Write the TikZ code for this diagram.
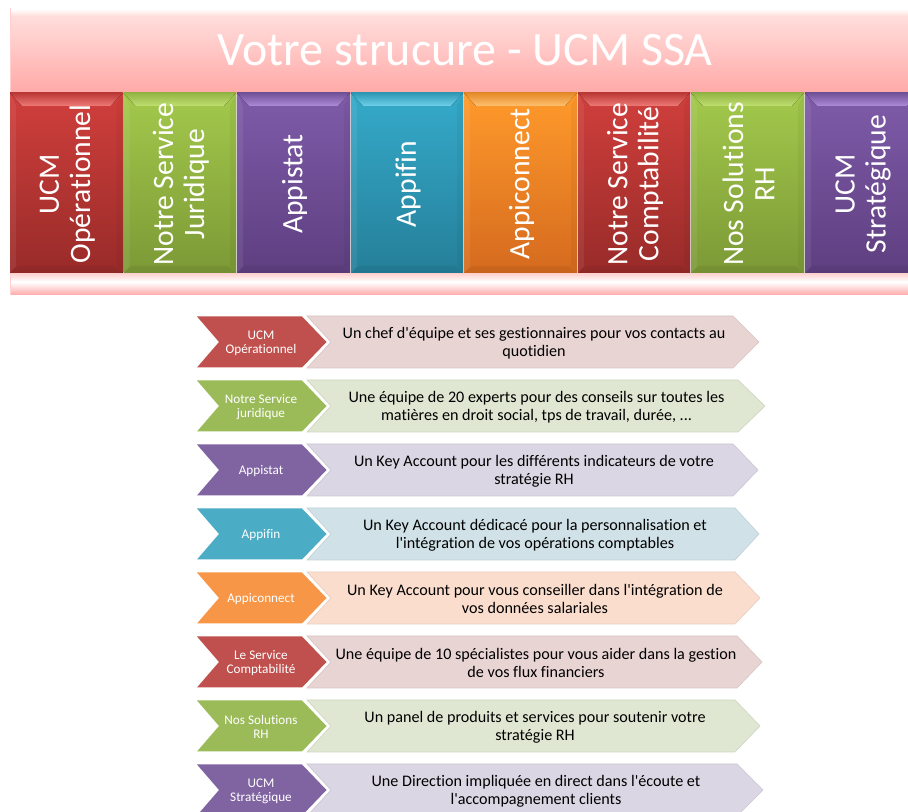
\documentclass[tikz,border=0pt]{standalone}
\usepackage{fontspec}
\setmainfont{Carlito}[Ligatures={TeXOff,CommonOff}]
\definecolor{cred}{HTML}{C0504D}
\definecolor{cgreen}{HTML}{9BBB59}
\definecolor{cviolet}{HTML}{8064A2}
\definecolor{cblue}{HTML}{4BACC6}
\definecolor{corange}{HTML}{F79646}
\definecolor{bred}{HTML}{E9D4D4}
\definecolor{bgreen}{HTML}{DFE7D2}
\definecolor{bviolet}{HTML}{DBD6E3}
\definecolor{bblue}{HTML}{D0E2E8}
\definecolor{borange}{HTML}{FBDDCE}
\definecolor{pan0}{HTML}{FFF6F5}
\definecolor{pan1}{HTML}{FFDEDC}
\definecolor{pan2}{HTML}{FFA9A7}
\definecolor{panE}{HTML}{FFD0CE}
\definecolor{redT}{HTML}{D03F3C}\definecolor{redB}{HTML}{982B29}\definecolor{redL}{HTML}{EE7A76}
\definecolor{grnT}{HTML}{A3C94C}\definecolor{grnB}{HTML}{7C9936}\definecolor{grnL}{HTML}{BFE070}
\definecolor{vioT}{HTML}{7F5BA9}\definecolor{vioB}{HTML}{5E3F80}\definecolor{vioL}{HTML}{AD8BD8}
\definecolor{bluT}{HTML}{35AACA}\definecolor{bluB}{HTML}{257F99}\definecolor{bluL}{HTML}{6FD0EA}
\definecolor{ornT}{HTML}{FF9A2B}\definecolor{ornB}{HTML}{D56A1F}\definecolor{ornL}{HTML}{FFC070}
\tikzset{
 x=0.75pt,y=-0.75pt,
 bandtxt/.style={text=white,font=\fontsize{22.2}{23.3}\selectfont,align=center,rotate=90,inner sep=0pt},
 chevtxt/.style={text=white,font=\fontsize{9.9}{10.5}\selectfont,align=center,inner sep=0pt},
 bodytxt/.style={text=black,font=\fontsize{12.1}{13.5}\selectfont,align=center,inner sep=0pt},
}
% band column: name, x0, x1, colour prefix, text
\newcommand{\bandcol}[5]{%
 \fill[top color=#4T,bottom color=#4B] (#2,93) rectangle (#3,273);
 \fill[white,opacity=.07] (#2,93) -- (#2+6,106) -- (#2+6,266) -- (#2,273) -- cycle;
 \fill[black,opacity=.04] (#3,93) -- (#3-6,106) -- (#3-6,266) -- (#3,273) -- cycle;
 \fill[black,opacity=.06] (#2,273) -- (#2+8,266) -- (#3-8,266) -- (#3,273) -- cycle;
 \fill[top color=#4T!90!black,bottom color=#4L] (#2,93) -- (#3,93) -- (#3-12,106) -- (#2+12,106) -- cycle;
 \node[bandtxt] (#1) at ({(#2+#3)/2+1},184) {#5};
}
% row: y top, shoulder, tip, chevron colour, body colour, chevron text, body text, name
\newcommand{\rowitem}[8]{%
 \fill[#5,draw=#5!93!black,line width=.5pt] (307,#1) -- (#2,#1) -- (#3,#1+26) -- (#2,#1+52) -- (307,#1+52) -- (331,#1+26) -- cycle;
 \fill[#4] (197,#1+.5) -- (302,#1+.5) -- (326.5,#1+26) -- (302,#1+51.5) -- (197,#1+51.5) -- (219,#1+26) -- cycle;
 \node[chevtxt] (c#8) at (261,#1+27) {#6};
 \node[bodytxt] (b#8) at ({(331+#2)/2+2},#1+27) {#7};
}
\begin{document}
\begin{tikzpicture}
\useasboundingbox (0,0) rectangle (908,812);
\fill[white] (0,0) rectangle (908,812);
% panel
\fill[panE] (10,8) rectangle (908,295);
\fill[top color=pan1,bottom color=pan2] (11,15) rectangle (908,94);
\fill[top color=white,bottom color=pan1] (11,9) rectangle (908,16);
\fill[top color=panE,bottom color=white] (11,273) rectangle (908,282);
\fill[top color=white,bottom color=pan2] (11,282) rectangle (908,295);
\node[text=white,font=\fontsize{36}{40}\selectfont,inner sep=0pt] (title) at (465,50) {Votre strucure - UCM SSA};
% columns
\fill[black!15] (10,94) rectangle (908,273);
\bandcol{c1}{10}{122.5}{red}{UCM\\Opérationnel}
\bandcol{c2}{123.5}{236}{grn}{Notre Service\\Juridique}
\bandcol{c3}{237}{350}{vio}{Appistat}
\bandcol{c4}{351}{463}{blu}{Appifin}
\bandcol{c5}{464}{577}{orn}{Appiconnect}
\bandcol{c6}{578}{690}{red}{Notre Service\\Comptabilité}
\bandcol{c7}{691}{804}{grn}{Nos Solutions\\RH}
\bandcol{c8}{805}{919}{vio}{UCM\\Stratégique}
% rows
\rowitem{316}{733}{759}{cred}{bred}{UCM\\Opérationnel}{Un chef d'équipe et ses gestionnaires pour vos contacts au\\quotidien}{r1}
\rowitem{380}{738}{765}{cgreen}{bgreen}{Notre Service\\juridique}{Une équipe de 20 experts pour des conseils sur toutes les\\matières en droit social, tps de travail, durée, ...}{r2}
\rowitem{444}{733}{758}{cviolet}{bviolet}{Appistat}{Un Key Account pour les différents indicateurs de votre\\stratégie RH}{r3}
\rowitem{508}{735}{759}{cblue}{bblue}{Appifin}{Un Key Account dédicacé pour la personnalisation et\\l'intégration de vos opérations comptables}{r4}
\rowitem{572}{735}{760}{corange}{borange}{Appiconnect}{Un Key Account pour vous conseiller dans l'intégration de\\vos données salariales}{r5}
\rowitem{636}{737}{762}{cred}{bred}{Le Service\\Comptabilité}{Une équipe de 10 spécialistes pour vous aider dans la gestion\\de vos flux financiers}{r6}
\rowitem{700}{735}{760}{cgreen}{bgreen}{Nos Solutions\\RH}{Un panel de produits et services pour soutenir votre\\stratégie RH}{r7}
\rowitem{764}{737}{763}{cviolet}{bviolet}{UCM\\Stratégique}{Une Direction impliquée en direct dans l'écoute et\\l'accompagnement clients}{r8}
\end{tikzpicture}
\end{document}
